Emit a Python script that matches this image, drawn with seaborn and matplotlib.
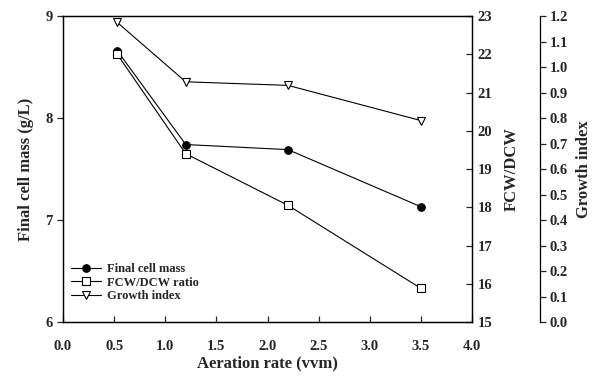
import matplotlib
matplotlib.use("Agg")
import matplotlib.pyplot as plt
import seaborn as sns
import pandas as pd

aeration = [0.53, 1.2, 2.2, 3.5]
final_cell_mass = [8.66, 7.74, 7.69, 7.13]
fcw_dcw = [22.0, 19.4, 18.05, 15.88]
growth_index = [1.175, 0.942, 0.928, 0.79]

x_ticks = [0.0, 0.5, 1.0, 1.5, 2.0, 2.5, 3.0, 3.5, 4.0]
y1_ticks = [6, 7, 8, 9]
y2_ticks = [15, 16, 17, 18, 19, 20, 21, 22, 23]
y3_ticks = [0.0, 0.1, 0.2, 0.3, 0.4, 0.5, 0.6, 0.7, 0.8, 0.9, 1.0, 1.1, 1.2]

sns.set_style("ticks")
plt.rcParams['font.family'] = ['Liberation Serif', 'DejaVu Serif']
plt.rcParams['font.weight'] = 'bold'

df = pd.DataFrame({"x": aeration, "fcm": final_cell_mass, "fcw": fcw_dcw, "gi": growth_index})

fig = plt.figure(figsize=(6.02, 3.76), dpi=100)
ax = fig.add_axes([0.1047, 0.1436, 0.6794, 0.8138])
ax2 = ax.twinx()
ax3 = ax.twinx()

lw = 0.8
sns.lineplot(data=df, x="x", y="fcm", ax=ax, color="black", linewidth=lw, marker="o",
             markersize=5.5, markerfacecolor="black", markeredgecolor="black", label="Final cell mass", legend=False)
sns.lineplot(data=df, x="x", y="fcw", ax=ax2, color="black", linewidth=lw, marker="s",
             markersize=5.5, markerfacecolor="white", markeredgecolor="black", markeredgewidth=0.8,
             label="FCW/DCW ratio", legend=False)
sns.lineplot(data=df, x="x", y="gi", ax=ax3, color="black", linewidth=lw, marker="v",
             markersize=5.5, markerfacecolor="white", markeredgecolor="black", markeredgewidth=0.8,
             label="Growth index", legend=False)

ax.set_xlim(0, 4)
ax.set_ylim(6, 9)
ax2.set_ylim(15, 23)
ax3.set_ylim(0, 1.2)

ax.set_xticks(x_ticks)
ax.set_xticklabels([f"{v:.1f}" for v in x_ticks])
ax.set_yticks(y1_ticks)
ax.set_yticklabels([str(v) for v in y1_ticks])
ax2.set_yticks(y2_ticks)
ax2.set_yticklabels([str(v) for v in y2_ticks])
ax3.set_yticks(y3_ticks)
ax3.set_yticklabels([f"{v:.1f}" for v in y3_ticks])

for a in (ax, ax2, ax3):
    for s in a.spines.values():
        s.set_linewidth(0.9)
        s.set_color("black")

ax.tick_params(axis="x", direction="in", length=4, width=0.9, labelsize=10.5, pad=13)
ax.tick_params(axis="y", direction="out", length=4, width=0.9, labelsize=10.5)
ax2.tick_params(axis="y", direction="in", length=4, width=0.9, labelsize=10.5, pad=4)

ax3.spines["right"].set_position(("axes", 1.166))
ax3.spines["top"].set_visible(False)
ax3.spines["bottom"].set_visible(False)
ax3.spines["left"].set_visible(False)
ax3.tick_params(axis="y", direction="out", length=4, width=0.9, labelsize=10.5, pad=3)

ax.set_xlabel("Aeration rate (vvm)", fontsize=12, fontweight="bold", labelpad=2)
ax.set_ylabel("Final cell mass (g/L)", fontsize=12, fontweight="bold", labelpad=8)
ax2.set_ylabel("FCW/DCW", fontsize=12, fontweight="bold", labelpad=8)
ax3.set_ylabel("Growth index", fontsize=12, fontweight="bold", labelpad=6)

handles = ax.get_lines()[:1] + ax2.get_lines()[:1] + ax3.get_lines()[:1]
labels = ["Final cell mass", "FCW/DCW ratio", "Growth index"]
leg = ax.legend(handles, labels, loc="lower left", bbox_to_anchor=(0.0, 0.04), frameon=False,
                handlelength=2.4, handletextpad=0.5, labelspacing=0.12, borderaxespad=0.2,
                prop={"weight": "bold", "size": 9})

fig.savefig("out.png", dpi=100)
